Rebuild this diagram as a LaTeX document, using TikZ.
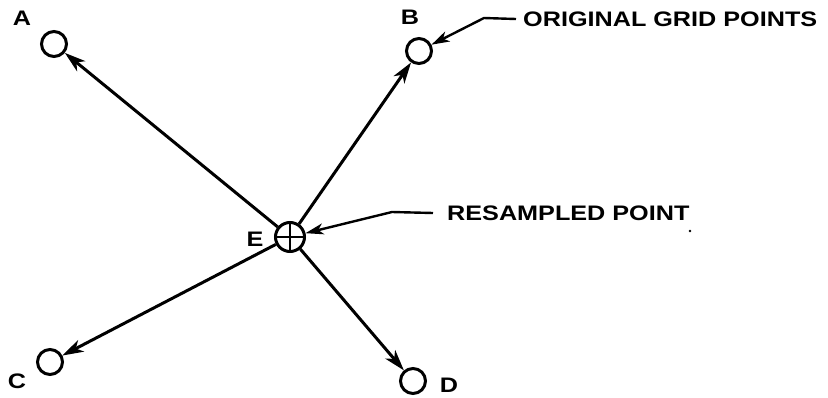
\documentclass[tikz,border=0pt]{standalone}
\usepackage{fontspec}
\usetikzlibrary{arrows.meta}
\newfontfamily\lblfont[FakeStretch=1.2]{Liberation Sans Bold}
\begin{document}
\begin{tikzpicture}[x=1pt,y=-1pt,
  gridpt/.style={circle,draw,line width=3pt,minimum size=25pt,inner sep=0pt},
  lbl/.style={font=\lblfont\fontsize{21}{23}\selectfont,inner sep=0pt},
  conn/.style={line width=3pt,-{Stealth[length=21pt,width=13pt,inset=6pt]}},
  lead/.style={line width=2.4pt,-{Stealth[length=18pt,width=11pt,inset=5pt]}}]
\useasboundingbox (0,0) rectangle (828,397);
\node[gridpt] (A) at (54,44) {};
\node[gridpt] (B) at (419,51) {};
\node[gridpt] (C) at (50,362) {};
\node[gridpt] (D) at (413,381) {};
\node[gridpt,minimum size=29pt] (E) at (290,237) {};
\draw[line width=2pt] (E.north) -- (E.south) (E.west) -- (E.east);
\node[lbl] (la) at (22,18) {A};
\node[lbl] (lb) at (410,17) {B};
\node[lbl] (lc) at (17,381) {C};
\node[lbl] (ld) at (449,385) {D};
\node[lbl] (le) at (255,239) {E};
\draw[conn] (E) -- (A);
\draw[conn] (E) -- (B);
\draw[conn] (E) -- (C);
\draw[conn] (E) -- (D);
\node[lbl,anchor=west] (og) at (523,19) {ORIGINAL GRID POINTS};
\node[lbl,anchor=west] (rp) at (447,213) {RESAMPLED POINT};
\coordinate (k1) at (484,18);
\coordinate (k2) at (392,212);
\draw[lead] ([xshift=-7pt]og.west) -- (k1) -- (B);
\draw[lead] ([xshift=-14pt]rp.west) -- (k2) -- (E);
\fill (690,231) circle (1.3pt);
\end{tikzpicture}
\end{document}
